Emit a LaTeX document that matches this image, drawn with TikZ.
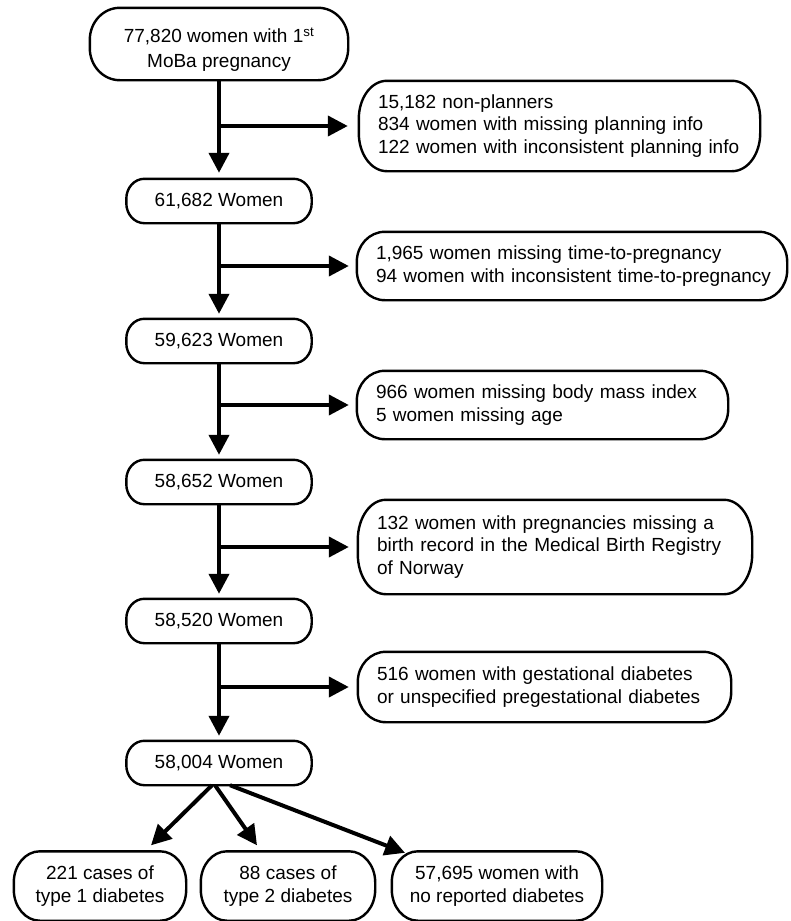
\documentclass[tikz,border=0pt]{standalone}
\usepackage{fontspec}
\setmainfont{Liberation Sans}
\usetikzlibrary{arrows.meta,calc}
\newcommand\pillbox[3]{%
 \draw[boxline] ($(#1.north west)+(#2pt,0)$) -- ($(#1.north east)+(-#2pt,0)$)
   arc[start angle=90,end angle=0,x radius=#2pt,y radius=#3pt]
   -- ($(#1.south east)+(0,#3pt)$)
   arc[start angle=0,end angle=-90,x radius=#2pt,y radius=#3pt]
   -- ($(#1.south west)+(#2pt,0)$)
   arc[start angle=270,end angle=180,x radius=#2pt,y radius=#3pt]
   -- ($(#1.north west)+(0,-#3pt)$)
   arc[start angle=180,end angle=90,x radius=#2pt,y radius=#3pt] -- cycle;}
\tikzset{
 boxline/.style={line width=2.4pt},
 arr/.style={line width=4pt, -{Triangle[length=20pt,width=20pt]}},
 mainbox/.style={inner sep=0pt, minimum width=185pt, minimum height=44pt, align=center},
 sidebox/.style={inner xsep=19pt, inner ysep=0pt, align=left},
 endbox/.style={inner sep=0pt, minimum height=69pt, align=center},
}
\begin{document}
\begin{tikzpicture}[x=1pt,y=1pt,font=\fontsize{19}{22.5}\selectfont]
\useasboundingbox (0,0) rectangle (790,-921);
% main column
\node[mainbox, minimum width=258pt, minimum height=72pt] (top) at (219,-44) {\rule{0pt}{26pt}77,820 women with 1\textsuperscript{st}\\[3pt]MoBa pregnancy};
\node[mainbox] (n1) at (219,-201) {61,682 Women};
\node[mainbox] (n2) at (219,-341) {59,623 Women};
\node[mainbox] (n3) at (219,-482) {58,652 Women};
\node[mainbox] (n4) at (219,-621) {58,520 Women};
\node[mainbox] (n5) at (219,-763) {58,004 Women};
% side boxes
\node[sidebox, minimum width=401pt, minimum height=90pt, text width=363pt] (r1) at (559.5,-126) {\mbox{15,182 non-planners}\\\mbox{834 women with missing planning info}\\\mbox{122 women with inconsistent planning info}};
\node[sidebox, minimum width=430pt, minimum height=68pt, text width=392pt] (r2) at (572,-266) {\mbox{1,965 women missing time-to-pregnancy}\\\mbox{94 women with inconsistent time-to-pregnancy}};
\node[sidebox, minimum width=371pt, minimum height=68pt, text width=333pt] (r3) at (542.5,-405) {\mbox{966 women missing body mass index}\\\mbox{5 women missing age}};
\node[sidebox, minimum width=394pt, minimum height=94pt, text width=356pt] (r4) at (555,-547) {\mbox{132 women with pregnancies missing a}\\\mbox{birth record in the Medical Birth Registry}\\\mbox{of Norway}};
\node[sidebox, minimum width=373pt, minimum height=70pt, text width=335pt] (r5) at (544.5,-687) {\mbox{516 women with gestational diabetes}\\\mbox{or unspecified pregestational diabetes}};
% end boxes
\node[endbox, minimum width=172pt] (b1) at (100,-886) {221 cases of\\type 1 diabetes};
\node[endbox, minimum width=174pt] (b2) at (288,-886) {88 cases of\\type 2 diabetes};
\node[endbox, minimum width=210pt] (b3) at (497,-886) {57,695 women with\\no reported diabetes};
% outlines
\pillbox{top}{30}{32}
\foreach \n in {n1,n2,n3,n4,n5} {\pillbox{\n}{18}{20}}
\pillbox{r1}{28}{38}
\pillbox{r2}{28}{30}
\pillbox{r3}{28}{30}
\pillbox{r4}{28}{40}
\pillbox{r5}{28}{30}
\pillbox{b1}{26}{31}
\pillbox{b2}{26}{31}
\pillbox{b3}{26}{31}
% trunk arrows
\draw[arr, shorten >=6pt] (top.south) -- (n1.north);
\draw[arr, shorten >=5pt] (n1.south) -- (n2.north);
\draw[arr, shorten >=5pt] (n2.south) -- (n3.north);
\draw[arr, shorten >=5pt] (n3.south) -- (n4.north);
\draw[arr, shorten >=5pt] (n4.south) -- (n5.north);
% branch arrows
\draw[arr, shorten >=11pt] (top.south |- r1.west) -- (r1.west);
\draw[arr, shorten >=8pt] (n1.south |- r2.west) -- (r2.west);
\draw[arr, shorten >=8pt] (n2.south |- r3.west) -- (r3.west);
\draw[arr, shorten >=9pt] (n3.south |- r4.west) -- (r4.west);
\draw[arr, shorten >=9pt] (n4.south |- r5.west) -- (r5.west);
% final split
\draw[arr] ($(n5.south)+(-7,0)$) -- ($(b1.north)+(51,6)$);
\draw[arr] ($(n5.south)+(-4,0)$) -- ($(b2.north)+(-31,6)$);
\draw[arr] ($(n5.south)+(11,0)$) -- ($(b3.north)+(-92,-1.5)$);
\end{tikzpicture}
\end{document}
